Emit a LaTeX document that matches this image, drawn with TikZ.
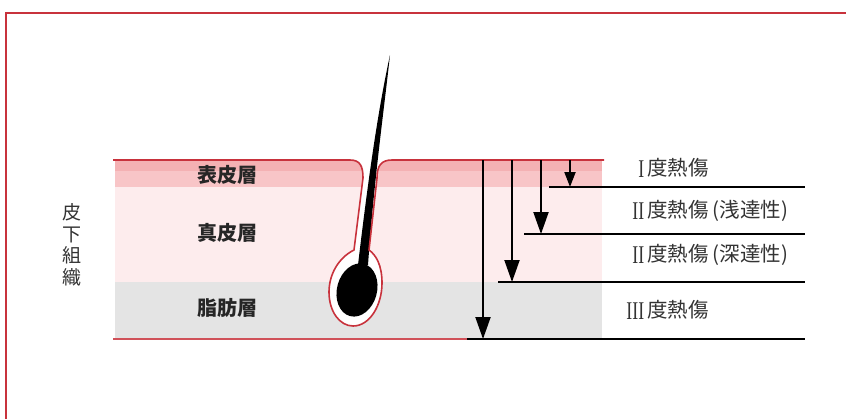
\documentclass[tikz,border=0pt]{standalone}
\usepackage{fontspec}
\usepackage{graphicx}
\setmainfont{Liberation Serif}
\newfontfamily\cjk{Noto Sans CJK JP}
\newfontfamily\romnum{Liberation Serif}
\usepackage{xcolor}
\usetikzlibrary{arrows.meta, positioning}

\definecolor{skinred}{HTML}{C8323C}
\definecolor{epidark}{HTML}{F4B1B3}
\definecolor{epilight}{HTML}{F8C5C7}
\definecolor{dermis}{HTML}{FDECED}
\definecolor{fat}{HTML}{E4E4E4}
\definecolor{labeltext}{HTML}{333333}

% narrow serif numeral in front of each burn degree
\newcommand{\degnum}[1]{\makebox[17pt][r]{\raisebox{-2pt}{\scalebox{0.7}[1]{\romnum\fontsize{25.5}{26}\selectfont #1}}}\hspace{3pt}}

\begin{document}
\begin{tikzpicture}[x=1pt, y=-1pt, font=\cjk]
\tikzstyle{frame} = [draw=skinred, line width=2pt]
\tikzstyle{surface} = [draw=skinred, line width=1.6pt, line join=round]
\tikzstyle{hair} = [fill=black]
\tikzstyle{level} = [draw, black, line width=2pt]
\tikzstyle{depth} = [draw, black, line width=2pt, -{Triangle[width=15pt, length=22pt]}]
\tikzstyle{shallow} = [draw, black, line width=2pt, -{Triangle[width=11pt, length=15pt]}]
\tikzstyle{layername} = [font=\cjk\bfseries\fontsize{20}{24}\selectfont, text=black!85]
\tikzstyle{burn} = [anchor=west, font=\cjk\fontsize{20.5}{24}\selectfont, text=labeltext, inner sep=0pt]

\useasboundingbox (0,0) rectangle (846,418);
\draw [frame] (6,419) -- (6,13) -- (847,13);

% skin layers
\fill [epidark] (115,160) rectangle (602,171);
\fill [epilight] (115,171) rectangle (602,187);
\fill [dermis] (115,187) rectangle (602,282);
\fill [fat] (115,282) rectangle (602,338);

% follicle cut out of the layers
\fill [white] (350,160) .. controls (360,160) and (363,166) .. (363,178)
    -- (354,250) .. controls (338,258) and (329,275) .. (329,292)
    .. controls (329,312) and (340,326) .. (353,326)
    .. controls (370,326) and (382,305) .. (382,283)
    .. controls (382,265) and (376,255) .. (369,250)
    -- (377,178) .. controls (377,166) and (381,160) .. (392,160) -- cycle;

% hair shaft and bulb
\fill [hair] (390,55) .. controls (378,110) and (368,180) .. (358,265)
    -- (368,265) .. controls (374,180) and (384,110) .. (390,55) -- cycle;
\fill [hair, rotate around={-15:(357,290)}] (357,290) ellipse [x radius=20, y radius=27];

% skin surface with follicle wall
\draw [surface] (113,160) -- (350,160) .. controls (360,160) and (363,166) .. (363,178)
    -- (354,250) .. controls (338,258) and (329,275) .. (329,292)
    .. controls (329,312) and (340,326) .. (353,326)
    .. controls (370,326) and (382,305) .. (382,283)
    .. controls (382,265) and (376,255) .. (369,250)
    -- (377,178) .. controls (377,166) and (381,160) .. (392,160) -- (604,160);
\draw [draw=skinred!85, line width=2.4pt] (113,339) -- (467,339);

\node (epi) [layername] at (227,175) {表皮層};
\node (der) [layername] at (227,233) {真皮層};
\node (sub) [layername] at (227,308) {脂肪層};
\node (subcut) [align=center, font=\cjk\fontsize{19}{21.5}\selectfont, text=labeltext] at (72,245) {皮\\下\\組\\織};

% burn depths
\coordinate (d1) at (570,187);
\coordinate (d2) at (541,234);
\coordinate (d3) at (512,282);
\coordinate (d4) at (483,339);
\draw [shallow] (570,160) -- (d1);
\draw [depth] (541,160) -- (d2);
\draw [depth] (512,160) -- (d3);
\draw [depth] (483,160) -- (d4);
\draw [level] (549,187) -- (805,187);
\draw [level] (524,234) -- (805,234);
\draw [level] (498,282) -- (805,282);
\draw [level] (467,339) -- (805,339);

\node (b1) [burn] at (627,168) {\degnum{I}度熱傷};
\node (b2) [burn] at (627,211) {\degnum{II}度熱傷\hspace{4pt}(浅達性)};
\node (b3) [burn] at (627,255) {\degnum{II}度熱傷\hspace{4pt}(深達性)};
\node (b4) [burn] at (627,310) {\degnum{III}度熱傷};
\end{tikzpicture}
\end{document}
